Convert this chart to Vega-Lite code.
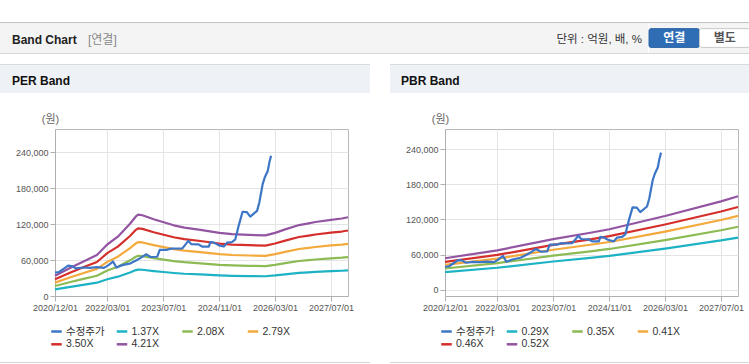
{
  "$schema": "https://vega.github.io/schema/vega-lite/v6.json",
  "background": "#ffffff",
  "padding": {"left": -1, "right": 0, "top": 22, "bottom": 0},
  "config": {
    "font": "Liberation Sans, Noto Sans CJK KR, sans-serif",
    "view": {"stroke": null},
    "axis": {
      "labelFontSize": 9, "labelColor": "#555555", "tickColor": "#b0b0b0", "tickSize": 5,
      "domainColor": "#b0b0b0", "gridColor": "#e4e4e4", "labelPadding": 2,
      "titleFontWeight": "normal", "labelFlush": false, "labelOverlap": false
    },
    "legend": {
      "orient": "none", "direction": "horizontal", "columns": 4, "symbolType": "stroke",
      "symbolStrokeWidth": 2.5, "symbolSize": 110, "labelFontSize": 10.5, "labelColor": "#333333",
      "columnPadding": 6.5, "rowPadding": 0.8, "gridAlign": "all", "labelOffset": 3, "padding": 0
    }
  },
  "datasets": {
    "one": [{}],
    "btn": [{"b": "연결", "on": 1}, {"b": "별도", "on": 0}],
    "price": [
      {"d":"2020-12-01","v":39000},{"d":"2021-01-05","v":40000},{"d":"2021-02-20","v":46000},
      {"d":"2021-03-25","v":50500},{"d":"2021-04-25","v":50000},{"d":"2021-06-01","v":46000},
      {"d":"2021-08-01","v":47500},{"d":"2021-10-01","v":47000},{"d":"2021-12-01","v":48000},
      {"d":"2022-02-01","v":47000},{"d":"2022-03-15","v":52000},{"d":"2022-04-20","v":57500},
      {"d":"2022-05-20","v":47500},{"d":"2022-07-10","v":51500},{"d":"2022-09-20","v":54500},
      {"d":"2022-11-15","v":60000},{"d":"2022-12-20","v":64000},{"d":"2023-02-01","v":69500},
      {"d":"2023-03-15","v":65000},{"d":"2023-05-10","v":65500},{"d":"2023-06-01","v":77000},
      {"d":"2023-08-05","v":77000},{"d":"2023-09-05","v":79000},{"d":"2023-12-15","v":79500},
      {"d":"2024-02-05","v":92000},{"d":"2024-03-01","v":86500},{"d":"2024-05-04","v":86000},
      {"d":"2024-06-03","v":82500},{"d":"2024-08-01","v":82500},{"d":"2024-08-15","v":90000},
      {"d":"2024-09-13","v":89000},{"d":"2024-10-28","v":84500},{"d":"2024-12-10","v":82500},
      {"d":"2025-01-07","v":89000},{"d":"2025-02-20","v":90000},{"d":"2025-03-20","v":94500},
      {"d":"2025-04-18","v":117000},{"d":"2025-05-22","v":140500},{"d":"2025-06-28","v":140000},
      {"d":"2025-07-28","v":132500},{"d":"2025-09-25","v":142000},{"d":"2025-10-15","v":156000},
      {"d":"2025-11-13","v":186500},{"d":"2025-12-01","v":197500},{"d":"2025-12-28","v":209000},
      {"d":"2026-01-10","v":222500},{"d":"2026-01-25","v":234000}
    ],
    "per": [
      {"d":"2020-12-01","s":"1.37X","v":11000},{"d":"2020-12-01","s":"2.08X","v":16600},{"d":"2020-12-01","s":"2.79X","v":22300},{"d":"2020-12-01","s":"3.50X","v":28000},{"d":"2020-12-01","s":"4.21X","v":33700},
      {"d":"2021-04-15","s":"1.37X","v":15300},{"d":"2021-04-15","s":"2.08X","v":23300},{"d":"2021-04-15","s":"2.79X","v":31200},{"d":"2021-04-15","s":"3.50X","v":39200},{"d":"2021-04-15","s":"4.21X","v":47200},
      {"d":"2021-08-15","s":"1.37X","v":19000},{"d":"2021-08-15","s":"2.08X","v":28900},{"d":"2021-08-15","s":"2.79X","v":38800},{"d":"2021-08-15","s":"3.50X","v":48700},{"d":"2021-08-15","s":"4.21X","v":58500},
      {"d":"2021-12-01","s":"1.37X","v":22200},{"d":"2021-12-01","s":"2.08X","v":33700},{"d":"2021-12-01","s":"2.79X","v":45200},{"d":"2021-12-01","s":"3.50X","v":56700},{"d":"2021-12-01","s":"4.21X","v":68200},
      {"d":"2022-03-01","s":"1.37X","v":27900},{"d":"2022-03-01","s":"2.08X","v":42400},{"d":"2022-03-01","s":"2.79X","v":56900},{"d":"2022-03-01","s":"3.50X","v":71400},{"d":"2022-03-01","s":"4.21X","v":85900},
      {"d":"2022-06-01","s":"1.37X","v":32200},{"d":"2022-06-01","s":"2.08X","v":48900},{"d":"2022-06-01","s":"2.79X","v":65600},{"d":"2022-06-01","s":"3.50X","v":82300},{"d":"2022-06-01","s":"4.21X","v":98900},
      {"d":"2022-09-15","s":"1.37X","v":39200},{"d":"2022-09-15","s":"2.08X","v":59500},{"d":"2022-09-15","s":"2.79X","v":79800},{"d":"2022-09-15","s":"3.50X","v":100100},{"d":"2022-09-15","s":"4.21X","v":120400},
      {"d":"2022-11-05","s":"1.37X","v":43200},{"d":"2022-11-05","s":"2.08X","v":65500},{"d":"2022-11-05","s":"2.79X","v":87900},{"d":"2022-11-05","s":"3.50X","v":110300},{"d":"2022-11-05","s":"4.21X","v":132600},
      {"d":"2022-11-25","s":"1.37X","v":44100},{"d":"2022-11-25","s":"2.08X","v":67000},{"d":"2022-11-25","s":"2.79X","v":89800},{"d":"2022-11-25","s":"3.50X","v":112700},{"d":"2022-11-25","s":"4.21X","v":135600},
      {"d":"2023-01-01","s":"1.37X","v":43800},{"d":"2023-01-01","s":"2.08X","v":66600},{"d":"2023-01-01","s":"2.79X","v":89300},{"d":"2023-01-01","s":"3.50X","v":112000},{"d":"2023-01-01","s":"4.21X","v":134700},
      {"d":"2023-04-10","s":"1.37X","v":41600},{"d":"2023-04-10","s":"2.08X","v":63200},{"d":"2023-04-10","s":"2.79X","v":84800},{"d":"2023-04-10","s":"3.50X","v":106400},{"d":"2023-04-10","s":"4.21X","v":128000},
      {"d":"2023-07-05","s":"1.37X","v":40000},{"d":"2023-07-05","s":"2.08X","v":60700},{"d":"2023-07-05","s":"2.79X","v":81500},{"d":"2023-07-05","s":"3.50X","v":102200},{"d":"2023-07-05","s":"4.21X","v":122900},
      {"d":"2023-10-01","s":"1.37X","v":38400},{"d":"2023-10-01","s":"2.08X","v":58200},{"d":"2023-10-01","s":"2.79X","v":78100},{"d":"2023-10-01","s":"3.50X","v":98000},{"d":"2023-10-01","s":"4.21X","v":117900},
      {"d":"2024-01-01","s":"1.37X","v":37100},{"d":"2024-01-01","s":"2.08X","v":56400},{"d":"2024-01-01","s":"2.79X","v":75600},{"d":"2024-01-01","s":"3.50X","v":94900},{"d":"2024-01-01","s":"4.21X","v":114100},
      {"d":"2024-05-20","s":"1.37X","v":35900},{"d":"2024-05-20","s":"2.08X","v":54500},{"d":"2024-05-20","s":"2.79X","v":73100},{"d":"2024-05-20","s":"3.50X","v":91700},{"d":"2024-05-20","s":"4.21X","v":110300},
      {"d":"2024-11-01","s":"1.37X","v":34300},{"d":"2024-11-01","s":"2.08X","v":52000},{"d":"2024-11-01","s":"2.79X","v":69800},{"d":"2024-11-01","s":"3.50X","v":87500},{"d":"2024-11-01","s":"4.21X","v":105300},
      {"d":"2025-02-20","s":"1.37X","v":33600},{"d":"2025-02-20","s":"2.08X","v":51000},{"d":"2025-02-20","s":"2.79X","v":68400},{"d":"2025-02-20","s":"3.50X","v":85800},{"d":"2025-02-20","s":"4.21X","v":103100},
      {"d":"2025-07-15","s":"1.37X","v":33200},{"d":"2025-07-15","s":"2.08X","v":50300},{"d":"2025-07-15","s":"2.79X","v":67500},{"d":"2025-07-15","s":"3.50X","v":84700},{"d":"2025-07-15","s":"4.21X","v":101900},
      {"d":"2025-12-07","s":"1.37X","v":32900},{"d":"2025-12-07","s":"2.08X","v":49900},{"d":"2025-12-07","s":"2.79X","v":67000},{"d":"2025-12-07","s":"3.50X","v":84000},{"d":"2025-12-07","s":"4.21X","v":101000},
      {"d":"2026-03-01","s":"1.37X","v":34300},{"d":"2026-03-01","s":"2.08X","v":52000},{"d":"2026-03-01","s":"2.79X","v":69800},{"d":"2026-03-01","s":"3.50X","v":87500},{"d":"2026-03-01","s":"4.21X","v":105300},
      {"d":"2026-05-28","s":"1.37X","v":36200},{"d":"2026-05-28","s":"2.08X","v":54900},{"d":"2026-05-28","s":"2.79X","v":73700},{"d":"2026-05-28","s":"3.50X","v":92400},{"d":"2026-05-28","s":"4.21X","v":111100},
      {"d":"2026-09-25","s":"1.37X","v":38500},{"d":"2026-09-25","s":"2.08X","v":58400},{"d":"2026-09-25","s":"2.79X","v":78400},{"d":"2026-09-25","s":"3.50X","v":98400},{"d":"2026-09-25","s":"4.21X","v":118300},
      {"d":"2026-12-18","s":"1.37X","v":39500},{"d":"2026-12-18","s":"2.08X","v":59900},{"d":"2026-12-18","s":"2.79X","v":80400},{"d":"2026-12-18","s":"3.50X","v":100800},{"d":"2026-12-18","s":"4.21X","v":121200},
      {"d":"2027-02-15","s":"1.37X","v":40100},{"d":"2027-02-15","s":"2.08X","v":60900},{"d":"2027-02-15","s":"2.79X","v":81700},{"d":"2027-02-15","s":"3.50X","v":102600},{"d":"2027-02-15","s":"4.21X","v":123400},
      {"d":"2027-07-01","s":"1.37X","v":41400},{"d":"2027-07-01","s":"2.08X","v":62800},{"d":"2027-07-01","s":"2.79X","v":84300},{"d":"2027-07-01","s":"3.50X","v":105700},{"d":"2027-07-01","s":"4.21X","v":127100},
      {"d":"2027-10-03","s":"1.37X","v":42100},{"d":"2027-10-03","s":"2.08X","v":63900},{"d":"2027-10-03","s":"2.79X","v":85700},{"d":"2027-10-03","s":"3.50X","v":107500},{"d":"2027-10-03","s":"4.21X","v":129200},
      {"d":"2027-11-26","s":"1.37X","v":42700},{"d":"2027-11-26","s":"2.08X","v":64900},{"d":"2027-11-26","s":"2.79X","v":87000},{"d":"2027-11-26","s":"3.50X","v":109200},{"d":"2027-11-26","s":"4.21X","v":131400}
    ],
    "pbr": [
      {"d":"2020-12-01","s":"0.29X","v":29900},{"d":"2020-12-01","s":"0.35X","v":36100},{"d":"2020-12-01","s":"0.41X","v":42200},{"d":"2020-12-01","s":"0.46X","v":47400},{"d":"2020-12-01","s":"0.52X","v":53600},
      {"d":"2022-03-01","s":"0.29X","v":37400},{"d":"2022-03-01","s":"0.35X","v":45200},{"d":"2022-03-01","s":"0.41X","v":52900},{"d":"2022-03-01","s":"0.46X","v":59300},{"d":"2022-03-01","s":"0.52X","v":67100},
      {"d":"2023-07-01","s":"0.29X","v":48100},{"d":"2023-07-01","s":"0.35X","v":58100},{"d":"2023-07-01","s":"0.41X","v":68100},{"d":"2023-07-01","s":"0.46X","v":76400},{"d":"2023-07-01","s":"0.52X","v":86300},
      {"d":"2024-05-20","s":"0.29X","v":54200},{"d":"2024-05-20","s":"0.35X","v":65500},{"d":"2024-05-20","s":"0.41X","v":76700},{"d":"2024-05-20","s":"0.46X","v":86000},{"d":"2024-05-20","s":"0.52X","v":97200},
      {"d":"2024-11-01","s":"0.29X","v":57600},{"d":"2024-11-01","s":"0.35X","v":69500},{"d":"2024-11-01","s":"0.41X","v":81400},{"d":"2024-11-01","s":"0.46X","v":91300},{"d":"2024-11-01","s":"0.52X","v":103200},
      {"d":"2026-03-01","s":"0.29X","v":70200},{"d":"2026-03-01","s":"0.35X","v":84700},{"d":"2026-03-01","s":"0.41X","v":99200},{"d":"2026-03-01","s":"0.46X","v":111300},{"d":"2026-03-01","s":"0.52X","v":125800},
      {"d":"2027-07-01","s":"0.29X","v":84100},{"d":"2027-07-01","s":"0.35X","v":101500},{"d":"2027-07-01","s":"0.41X","v":118900},{"d":"2027-07-01","s":"0.46X","v":133400},{"d":"2027-07-01","s":"0.52X","v":150800},
      {"d":"2027-11-26","s":"0.29X","v":89000},{"d":"2027-11-26","s":"0.35X","v":107500},{"d":"2027-11-26","s":"0.41X","v":125900},{"d":"2027-11-26","s":"0.46X","v":141200},{"d":"2027-11-26","s":"0.52X","v":159600}
    ]
  },
  "columns": 2,
  "align": "none",
  "spacing": {"row": 0, "column": 0},
  "concat": [
    {"width": 1, "height": 1, "data": {"name": "one"}, "mark": {"type": "rect", "color": "#ffffff"}},
    {
      "spacing": 0,
      "vconcat": [
        {"width": 749, "height": 1, "data": {"name": "one"}, "mark": {"type": "rect", "color": "#c4c4c4"}},
        {
          "spacing": 0,
          "hconcat": [
            {"width": 80, "height": 30, "data": {"name": "one"}, "mark": {"type": "rect", "color": "#f4f4f4"},
             "title": {"text": "Band Chart", "anchor": "start", "frame": "group", "offset": 0, "baseline": "middle", "dx": 12, "dy": 28.5, "fontSize": 12, "fontWeight": "bold", "color": "#222222"}},
            {"width": 466, "height": 30, "data": {"name": "one"}, "mark": {"type": "rect", "color": "#f4f4f4"},
             "title": {"text": "[연결]", "anchor": "start", "frame": "group", "offset": 0, "baseline": "middle", "dx": 8, "dy": 28.5, "fontSize": 12, "fontWeight": "normal", "color": "#888888"}},
            {"width": 102, "height": 30, "data": {"name": "one"}, "mark": {"type": "rect", "color": "#f4f4f4"},
             "title": {"text": "단위 : 억원, 배, %", "anchor": "end", "frame": "group", "offset": 0, "baseline": "middle", "dx": -6, "dy": 28, "fontSize": 11.5, "fontWeight": "normal", "color": "#333333"}},
            {"width": 101, "height": 30, "data": {"name": "btn"},
             "layer": [
               {"mark": {"type": "rect", "color": "#f4f4f4"}},
               {"mark": {"type": "rect", "cornerRadius": 2, "strokeWidth": 1},
                "encoding": {
                  "x": {"field": "b", "type": "nominal", "scale": {"domain": ["연결", "별도"], "paddingInner": 0, "paddingOuter": 0}, "axis": null},
                  "y": {"datum": "btn", "type": "nominal", "scale": {"paddingInner": 0, "paddingOuter": 0.3}, "axis": null},
                  "fill": {"condition": {"test": "datum.on == 1", "value": "#2f6db5"}, "value": "#ffffff"},
                  "stroke": {"condition": {"test": "datum.on == 1", "value": "#2a62a4"}, "value": "#c8c8c8"}
                }},
               {"mark": {"type": "text", "fontSize": 12, "fontWeight": "bold"},
                "encoding": {
                  "x": {"field": "b", "type": "nominal"},
                  "y": {"datum": "btn", "type": "nominal"},
                  "text": {"field": "b"},
                  "color": {"condition": {"test": "datum.on == 1", "value": "#ffffff"}, "value": "#555555"}
                }}
             ]}
          ]
        },
        {"width": 749, "height": 1, "data": {"name": "one"}, "mark": {"type": "rect", "color": "#d6d6d6"}},
        {"width": 1, "height": 10, "data": {"name": "one"}, "mark": {"type": "rect", "color": "#ffffff"}}
      ]
    },
    {"width": 1, "height": 1, "data": {"name": "one"}, "mark": {"type": "rect", "color": "#ffffff"}},
    {
      "spacing": 0,
      "vconcat": [
        {
          "spacing": 20,
          "hconcat": [
            {"width": 370, "height": 1, "data": {"name": "one"}, "mark": {"type": "rect", "color": "#dadada"}},
            {"width": 359, "height": 1, "data": {"name": "one"}, "mark": {"type": "rect", "color": "#dadada"}}
          ]
        },
        {
          "spacing": 20,
          "hconcat": [
            {"width": 370, "height": 28, "data": {"name": "one"}, "mark": {"type": "rect", "color": "#eef1f6"},
             "title": {"text": "PER Band", "anchor": "start", "frame": "group", "offset": 0, "baseline": "middle", "dx": 12, "dy": 28, "fontSize": 12, "fontWeight": "bold", "color": "#111111"}},
            {"width": 359, "height": 28, "data": {"name": "one"}, "mark": {"type": "rect", "color": "#eef1f6"},
             "title": {"text": "PBR Band", "anchor": "start", "frame": "group", "offset": 0, "baseline": "middle", "dx": 11, "dy": 28, "fontSize": 12, "fontWeight": "bold", "color": "#111111"}}
          ]
        },
        {"width": 1, "height": 19, "data": {"name": "one"}, "mark": {"type": "rect", "color": "#ffffff"}}
      ]
    },
    {"width": 1, "height": 1, "data": {"name": "one"}, "mark": {"type": "rect", "color": "#ffffff"}},
    {
      "spacing": 97,
      "bounds": "flush",
      "resolve": {"scale": {"color": "independent"}, "legend": {"color": "independent"}},
      "hconcat": [
        {
          "width": 293, "height": 167,
          "view": {"stroke": "#b8b8b8"},
          "encoding": {
            "x": {"field": "d", "type": "temporal",
                  "scale": {"type": "utc", "domain": [{"year": 2020, "month": 12, "date": 1, "utc": true}, {"year": 2027, "month": 11, "date": 26, "utc": true}]},
                  "axis": {"title": null, "format": "%Y/%m/%d", "grid": true,
                           "values": [{"year": 2020, "month": 12, "date": 1, "utc": true}, {"year": 2022, "month": 3, "date": 1, "utc": true}, {"year": 2023, "month": 7, "date": 1, "utc": true}, {"year": 2024, "month": 11, "date": 1, "utc": true}, {"year": 2026, "month": 3, "date": 1, "utc": true}, {"year": 2027, "month": 7, "date": 1, "utc": true}]}},
            "y": {"field": "v", "type": "quantitative",
                  "scale": {"domain": [0, 278500], "nice": false, "zero": false},
                  "axis": {"title": "(원)", "titleAngle": 0, "titleX": -5, "titleY": -10, "titleAlign": "center", "titleBaseline": "middle", "titleFontSize": 11, "titleColor": "#666666",
                           "values": [0, 60000, 120000, 180000, 240000], "format": ",.0f", "grid": true, "minExtent": 54, "maxExtent": 54}}
          },
          "layer": [
            {"data": {"name": "per"}, "mark": {"type": "line", "strokeWidth": 2.2, "strokeJoin": "round"},
             "encoding": {"color": {"field": "s", "type": "nominal",
               "scale": {"domain": ["수정주가", "1.37X", "2.08X", "2.79X", "3.50X", "4.21X"], "range": ["#3d76c6", "#1db3c4", "#8cba53", "#f3a93c", "#d52f2c", "#9355a2"]},
               "legend": {"title": null, "legendX": -5, "legendY": 196}}}},
            {"data": {"name": "price"}, "mark": {"type": "line", "strokeWidth": 2.2, "strokeJoin": "round"},
             "encoding": {"color": {"datum": "수정주가"}}}
          ]
        },
        {
          "width": 293, "height": 167,
          "view": {"stroke": "#b8b8b8"},
          "encoding": {
            "x": {"field": "d", "type": "temporal",
                  "scale": {"type": "utc", "domain": [{"year": 2020, "month": 12, "date": 1, "utc": true}, {"year": 2027, "month": 11, "date": 26, "utc": true}]},
                  "axis": {"title": null, "format": "%Y/%m/%d", "grid": true,
                           "values": [{"year": 2020, "month": 12, "date": 1, "utc": true}, {"year": 2022, "month": 3, "date": 1, "utc": true}, {"year": 2023, "month": 7, "date": 1, "utc": true}, {"year": 2024, "month": 11, "date": 1, "utc": true}, {"year": 2026, "month": 3, "date": 1, "utc": true}, {"year": 2027, "month": 7, "date": 1, "utc": true}]}},
            "y": {"field": "v", "type": "quantitative",
                  "scale": {"domain": [-10800, 274300], "nice": false, "zero": false},
                  "axis": {"title": "(원)", "titleAngle": 0, "titleX": -5, "titleY": -10, "titleAlign": "center", "titleBaseline": "middle", "titleFontSize": 11, "titleColor": "#666666",
                           "values": [0, 60000, 120000, 180000, 240000], "format": ",.0f", "grid": true, "minExtent": 54, "maxExtent": 54}}
          },
          "layer": [
            {"data": {"name": "pbr"}, "mark": {"type": "line", "strokeWidth": 2.2, "strokeJoin": "round"},
             "encoding": {"color": {"field": "s", "type": "nominal",
               "scale": {"domain": ["수정주가", "0.29X", "0.35X", "0.41X", "0.46X", "0.52X"], "range": ["#3d76c6", "#1db3c4", "#8cba53", "#f3a93c", "#d52f2c", "#9355a2"]},
               "legend": {"title": null, "legendX": -5, "legendY": 196}}}},
            {"data": {"name": "price"}, "mark": {"type": "line", "strokeWidth": 2.2, "strokeJoin": "round"},
             "encoding": {"color": {"datum": "수정주가"}}}
          ]
        }
      ]
    },
    {"width": 1, "height": 1, "data": {"name": "one"}, "mark": {"type": "rect", "color": "#ffffff"}},
    {
      "spacing": 0,
      "vconcat": [
        {"width": 1, "height": 11, "data": {"name": "one"}, "mark": {"type": "rect", "color": "#ffffff"}},
        {
          "spacing": 20,
          "hconcat": [
            {"width": 370, "height": 1, "data": {"name": "one"}, "mark": {"type": "rect", "color": "#d4d4d4"}},
            {"width": 359, "height": 1, "data": {"name": "one"}, "mark": {"type": "rect", "color": "#d4d4d4"}}
          ]
        }
      ]
    }
  ]
}
